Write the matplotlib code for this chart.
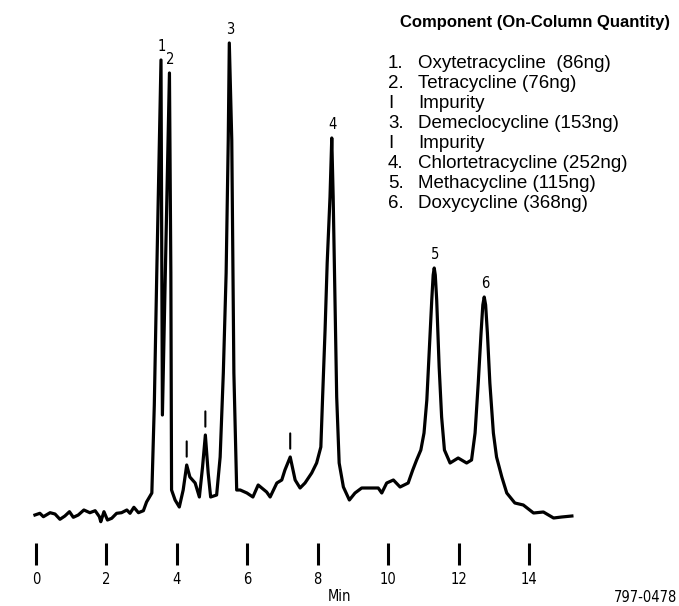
import matplotlib
matplotlib.use("Agg")
import matplotlib.pyplot as plt
import numpy as np

# chromatogram trace (minutes, detector response)
time_min = [
    -0.03, 0.11, 0.21, 0.40, 0.54, 0.68, 0.82, 0.95, 1.06, 1.20, 1.36, 1.53, 1.68,
    1.80, 1.84, 1.93, 2.03, 2.15, 2.29, 2.43, 2.58, 2.67, 2.78, 2.91, 3.05, 3.14,
    3.29, 3.36, 3.43, 3.55, 3.59, 3.79, 3.83, 3.85, 3.95, 4.07, 4.18, 4.28, 4.37,
    4.52, 4.64, 4.73, 4.81, 4.89, 4.96, 5.13, 5.23, 5.32, 5.40, 5.46, 5.49, 5.56,
    5.62, 5.70, 5.80, 5.99, 6.16, 6.31, 6.55, 6.65, 6.84, 6.98, 7.07, 7.22, 7.36,
    7.50, 7.64, 7.83, 7.97, 8.09, 8.14, 8.21, 8.27, 8.35, 8.40, 8.44, 8.49, 8.54,
    8.61, 8.73, 8.90, 9.06, 9.25, 9.44, 9.72, 9.82, 9.96, 10.15, 10.34, 10.57, 10.70,
    10.81, 10.93, 11.02, 11.10, 11.17, 11.24, 11.28, 11.31, 11.34, 11.38, 11.45,
    11.52, 11.60, 11.76, 11.99, 12.23, 12.37, 12.47, 12.56, 12.64, 12.69, 12.73,
    12.77, 12.82, 12.89, 12.99, 13.08, 13.23, 13.37, 13.60, 13.84, 14.13, 14.41,
    14.70, 14.93, 15.22,
]
signal = [
    15, 16.7, 13.3, 17.3, 16, 10.7, 14, 18.3, 12.7, 15, 20, 17.3, 19.3,
    13.3, 8.3, 18.3, 10, 11.7, 16.7, 17.3, 20, 16.7, 22.7, 17.3, 19.3, 28,
    37, 125, 257, 470, 115, 457, 257, 40, 30, 23, 40, 65, 53,
    47, 33, 63, 95, 57, 33, 35, 73, 157, 257, 390, 487, 390,
    157, 40, 40, 37, 33, 45, 38, 33, 47, 50, 60, 73, 50,
    42, 47, 57, 67, 83, 133, 200, 267, 333, 392, 333, 233, 133,
    67, 43, 30, 37, 42, 42, 42, 37, 47, 50, 43, 47, 60,
    70, 80, 97, 130, 180, 230, 255, 262, 255, 230, 163,
    113, 80, 67, 72, 67, 70, 97, 147, 197, 225, 233,
    225, 197, 147, 97, 73, 53, 37, 27, 25, 17, 18,
    12, 13, 14,
]

peak_labels = ["1", "2", "3", "4", "5", "6"]
peak_times = [3.55, 3.79, 5.49, 8.40, 11.31, 12.73]
impurity_times = [4.28, 4.81, 7.22]

legend_title = "Component (On-Column Quantity)"
legend_keys = ["1.", "2.", "I", "3.", "I", "4.", "5.", "6."]
legend_names = [
    "Oxytetracycline  (86ng)",
    "Tetracycline (76ng)",
    "Impurity",
    "Demeclocycline (153ng)",
    "Impurity",
    "Chlortetracycline (252ng)",
    "Methacycline (115ng)",
    "Doxycycline (368ng)",
]

x_ticks = [0, 2, 4, 6, 8, 10, 12, 14]

plt.rcParams.update({"font.family": ["Liberation Sans", "DejaVu Sans"]})
narrow = dict(family="DejaVu Sans", fontstretch="condensed", fontsize=10.5)

W, H = 679, 606
fig = plt.figure(figsize=(W / 100, H / 100), dpi=100)
ax = fig.add_axes([0, 63 / H, 1, 1 - 63 / H])

t = np.array(time_min)
s = np.array(signal)
ax.plot(t, s, color="black", linewidth=2.3, solid_joinstyle="round")

ax.set_xlim(-36 / 35.21, (W - 36) / 35.21)
ax.set_ylim(-13, 530)

for lab, pt in zip(peak_labels, peak_times):
    ax.annotate(lab, xy=(pt, np.interp(pt, t, s)), xytext=(0.5, 4.5),
                textcoords="offset points", ha="center", va="bottom", **narrow)

# impurity markers: short bars above the small peaks
for it in impurity_times:
    ax.annotate("", xy=(it, np.interp(it, t, s)), xytext=(0, 17),
                textcoords="offset points",
                arrowprops=dict(arrowstyle="-", color="black", lw=1.5,
                                shrinkA=0, shrinkB=6))

for side in ["top", "right", "left", "bottom"]:
    ax.spines[side].set_visible(False)
ax.set_yticks([])
ax.set_xticks(x_ticks)
ax.set_xticklabels([str(v) for v in x_ticks], **narrow)
ax.tick_params(axis="x", direction="out", length=16, width=2.2, pad=5)
ax.set_xlabel("Min", labelpad=1, **narrow)

fig.text(677 / W, 1 - 597 / H, "797-0478", ha="right", va="center", **narrow)

fig.text(400 / W, 1 - 22 / H, legend_title, ha="left", va="center",
         fontsize=12, fontweight="bold")
for i, (k, name) in enumerate(zip(legend_keys, legend_names)):
    y = 1 - (63 + 20 * i) / H
    fig.text(388 / W, y, k, ha="left", va="center", fontsize=13.5)
    fig.text(418 / W, y, name, ha="left", va="center", fontsize=13.5)

fig.savefig("out.png", dpi=100)
